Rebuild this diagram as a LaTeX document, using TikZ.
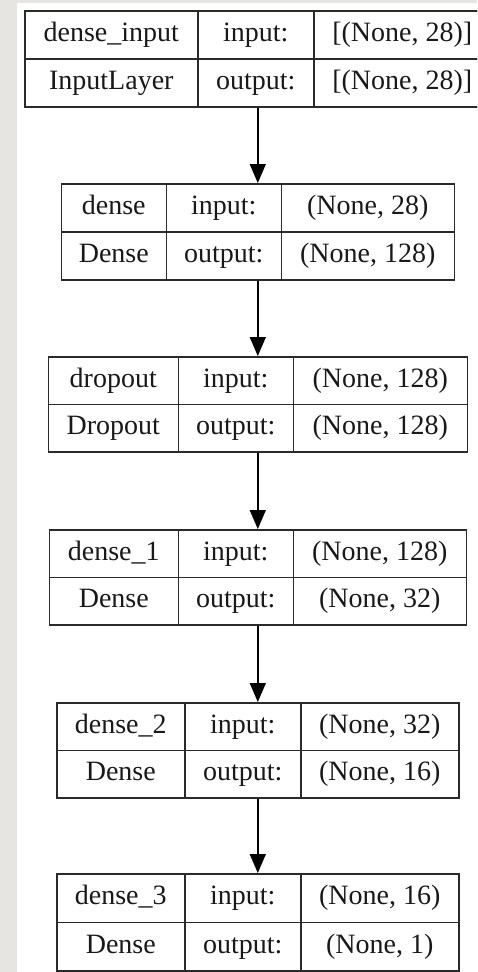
\documentclass[tikz,border=0pt]{standalone}
\usepackage{fontspec}
\setmainfont{Liberation Serif}
\usetikzlibrary{arrows.meta}
\definecolor{bggray}{HTML}{E6E5E1}
\definecolor{edge}{HTML}{2A2A2A}
\tikzset{
  cell/.style={draw=edge, line width=1.6pt, anchor=north west, inner sep=0pt,
    minimum height=48pt, font=\fontsize{28}{30}\selectfont, text=black!90,
    text height=19pt, text depth=6pt},
  layerbox/.style={draw=edge, line width=1.6pt, anchor=north west, inner sep=0pt},
  flow/.style={draw=black, line width=1.5pt, -{Triangle[length=19pt,width=16pt]}}
}
\begin{document}
\begin{tikzpicture}[x=1pt,y=-1pt]
\useasboundingbox (0,0) rectangle (477,972);
\clip (0,0) rectangle (477,972);
\fill[white] (0,0) rectangle (477,972);
\fill[bggray] (0,0) rectangle (17,972);
\fill[bggray] (0,0) rectangle (477,2.7);

% Box 1
\node[layerbox, minimum width=466pt, minimum height=96pt] (b1) at (24,10) {};
\node[cell, minimum width=173pt] (b1n) at (24,10) {dense\_input};
\node[cell, minimum width=116pt] (b1i) at (197,10) {input:};
\node[cell, minimum width=177pt] (b1v) at (313,10) {[(None, 28)]};
\node[cell, minimum width=173pt] (b1t) at (24,58) {InputLayer};
\node[cell, minimum width=116pt] (b1o) at (197,58) {output:};
\node[cell, minimum width=177pt] (b1w) at (313,58) {[(None, 28)]};

% Box 2
\node[layerbox, minimum width=393pt, minimum height=96pt] (b2) at (60.5,183) {};
\node[cell, minimum width=105pt] (b2n) at (60.5,183) {dense};
\node[cell, minimum width=115pt] (b2i) at (165.5,183) {input:};
\node[cell, minimum width=173pt] (b2v) at (280.5,183) {(None, 28)};
\node[cell, minimum width=105pt] (b2t) at (60.5,231) {Dense};
\node[cell, minimum width=115pt] (b2o) at (165.5,231) {output:};
\node[cell, minimum width=173pt] (b2w) at (280.5,231) {(None, 128)};

% Box 3
\node[layerbox, minimum width=419pt, minimum height=95pt] (b3) at (47.5,356) {};
\node[cell, minimum width=130pt, minimum height=47.5pt] (b3n) at (47.5,356) {dropout};
\node[cell, minimum width=115pt, minimum height=47.5pt] (b3i) at (177.5,356) {input:};
\node[cell, minimum width=174pt, minimum height=47.5pt] (b3v) at (292.5,356) {(None, 128)};
\node[cell, minimum width=130pt, minimum height=47.5pt] (b3t) at (47.5,403.5) {Dropout};
\node[cell, minimum width=115pt, minimum height=47.5pt] (b3o) at (177.5,403.5) {output:};
\node[cell, minimum width=174pt, minimum height=47.5pt] (b3w) at (292.5,403.5) {(None, 128)};

% Box 4
\node[layerbox, minimum width=417pt, minimum height=95pt] (b4) at (48.5,529) {};
\node[cell, minimum width=129pt, minimum height=47.5pt] (b4n) at (48.5,529) {dense\_1};
\node[cell, minimum width=115pt, minimum height=47.5pt] (b4i) at (177.5,529) {input:};
\node[cell, minimum width=173pt, minimum height=47.5pt] (b4v) at (292.5,529) {(None, 128)};
\node[cell, minimum width=129pt, minimum height=47.5pt] (b4t) at (48.5,576.5) {Dense};
\node[cell, minimum width=115pt, minimum height=47.5pt] (b4o) at (177.5,576.5) {output:};
\node[cell, minimum width=173pt, minimum height=47.5pt] (b4w) at (292.5,576.5) {(None, 32)};

% Box 5
\node[layerbox, minimum width=402pt, minimum height=95pt] (b5) at (56,702) {};
\node[cell, minimum width=128pt, minimum height=47.5pt] (b5n) at (56,702) {dense\_2};
\node[cell, minimum width=116pt, minimum height=47.5pt] (b5i) at (184,702) {input:};
\node[cell, minimum width=158pt, minimum height=47.5pt] (b5v) at (300,702) {(None, 32)};
\node[cell, minimum width=128pt, minimum height=47.5pt] (b5t) at (56,749.5) {Dense};
\node[cell, minimum width=116pt, minimum height=47.5pt] (b5o) at (184,749.5) {output:};
\node[cell, minimum width=158pt, minimum height=47.5pt] (b5w) at (300,749.5) {(None, 16)};

% Box 6
\node[layerbox, minimum width=402pt, minimum height=97pt] (b6) at (56,873) {};
\node[cell, minimum width=128pt, minimum height=48.5pt] (b6n) at (56,873) {dense\_3};
\node[cell, minimum width=116pt, minimum height=48.5pt] (b6i) at (184,873) {input:};
\node[cell, minimum width=158pt, minimum height=48.5pt] (b6v) at (300,873) {(None, 16)};
\node[cell, minimum width=128pt, minimum height=48.5pt] (b6t) at (56,921.5) {Dense};
\node[cell, minimum width=116pt, minimum height=48.5pt] (b6o) at (184,921.5) {output:};
\node[cell, minimum width=158pt, minimum height=48.5pt] (b6w) at (300,921.5) {(None, 1)};

% Connectors
\draw[flow] (b1.south) -- (b2.north);
\draw[flow] (b2.south) -- (b3.north);
\draw[flow] (b3.south) -- (b4.north);
\draw[flow] (b4.south) -- (b5.north);
\draw[flow] (b5.south) -- (b6.north);
\end{tikzpicture}
\end{document}
